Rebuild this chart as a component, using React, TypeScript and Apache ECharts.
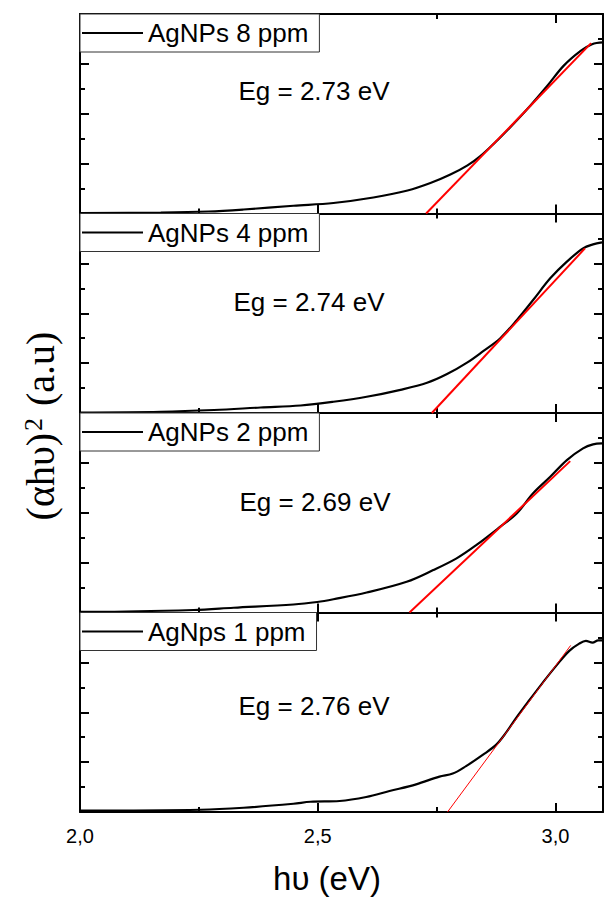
import React, { useEffect, useRef } from "react";
import * as echarts from "echarts";

// ---------- data ----------
const X_MIN = 2.0;
const X_MAX = 3.1;
const xTickValues = [2.0, 2.5, 3.0];
const xTickLabels = ["2,0", "2,5", "3,0"];

const seriesNames = ["AgNPs 8 ppm", "AgNPs 4 ppm", "AgNPs 2 ppm", "AgNps 1 ppm"];
const egLabels = ["Eg = 2.73 eV", "Eg = 2.74 eV", "Eg = 2.69 eV", "Eg = 2.76 eV"];

// 8 ppm
const energy8 = [2.0, 2.17, 2.27, 2.344, 2.449, 2.533, 2.617, 2.689, 2.737, 2.779, 2.815, 2.842, 2.878, 2.911, 2.947, 2.983, 3.017, 3.053, 3.077, 3.1];
const absorb8 = [0.02, 0.04, 0.08, 0.16, 0.31, 0.42, 0.64, 0.92, 1.22, 1.56, 1.93, 2.3, 2.94, 3.58, 4.32, 5.12, 5.92, 6.52, 6.79, 6.86];
// 4 ppm
const energy4 = [2.0, 2.17, 2.282, 2.38, 2.464, 2.533, 2.603, 2.674, 2.73, 2.772, 2.814, 2.848, 2.884, 2.919, 2.953, 2.989, 3.024, 3.058, 3.079, 3.098];
const absorb4 = [0.02, 0.05, 0.12, 0.22, 0.3, 0.45, 0.65, 0.93, 1.21, 1.56, 2.02, 2.48, 3.0, 3.73, 4.53, 5.4, 6.07, 6.6, 6.76, 6.84];
// 2 ppm
const energy2 = [2.0, 2.029, 2.239, 2.323, 2.449, 2.499, 2.533, 2.603, 2.687, 2.743, 2.792, 2.834, 2.884, 2.919, 2.953, 2.989, 3.024, 3.058, 3.079, 3.098];
const absorb2 = [0.03, 0.03, 0.1, 0.19, 0.32, 0.42, 0.53, 0.8, 1.23, 1.7, 2.17, 2.71, 3.44, 3.98, 4.78, 5.44, 6.11, 6.58, 6.74, 6.78];
// 1 ppm
const energy1 = [2.0, 2.254, 2.344, 2.449, 2.485, 2.546, 2.602, 2.651, 2.707, 2.756, 2.784, 2.812, 2.847, 2.875, 2.896, 2.917, 2.945, 2.973, 3.001, 3.029, 3.05, 3.064, 3.078, 3.09, 3.099];
const absorb1 = [0.06, 0.09, 0.17, 0.33, 0.41, 0.44, 0.6, 0.84, 1.11, 1.42, 1.54, 1.84, 2.29, 2.69, 3.18, 3.76, 4.48, 5.18, 5.85, 6.46, 6.75, 6.86, 6.79, 6.88, 6.88];

// Tauc fit lines: [Eg intercept, end energy], [0, end value]
const fitEnergy = [
  [2.728, 3.075],
  [2.74, 3.062],
  [2.693, 3.031],
  [2.773, 3.032],
];
const fitValue = [
  [0, 6.83],
  [0, 6.6],
  [0, 6.07],
  [0, 6.68],
];

const energies = [energy8, energy4, energy2, energy1];
const absorbs = [absorb8, absorb4, absorb2, absorb1];

// ---------- layout ----------
const TOPS = [14, 213.5, 413, 612.5];
const PANEL_H = 199.5;
const EG_POS = [
  [314, 91],
  [309, 302],
  [315, 502],
  [314, 706],
];

export default function App() {
  const ref = useRef<HTMLDivElement>(null);

  useEffect(() => {
    if (!ref.current) return;
    const chart = echarts.init(ref.current, null, { renderer: "svg" });

    const black = "#000";
    const grids: any[] = [];
    const xAxes: any[] = [];
    const yAxes: any[] = [];
    const series: any[] = [];
    const legends: any[] = [];
    const graphics: any[] = [];

    for (let g = 0; g < 4; g++) {
      grids.push({ left: 80, width: 523, top: TOPS[g], height: PANEL_H, show: false, containLabel: false });

      const baseX = {
        gridIndex: g,
        type: "value",
        min: X_MIN,
        max: X_MAX,
        splitLine: { show: false },
      };
      xAxes.push({
        ...baseX,
        position: "bottom",
        interval: 0.5,
        axisLine: { show: true, onZero: false, lineStyle: { color: black, width: 2 } },
        axisTick: { show: true, inside: true, length: 9, lineStyle: { color: black, width: 2 } },
        axisLabel:
          g === 3
            ? {
                show: true,
                margin: 14,
                fontSize: 20,
                fontFamily: "Liberation Sans",
                color: black,
                showMaxLabel: false,
                formatter: (v: number) => {
                  const i = xTickValues.findIndex((t) => Math.abs(t - v) < 1e-6);
                  return i >= 0 ? xTickLabels[i] : "";
                },
              }
            : { show: false },
      });
      xAxes.push({
        ...baseX,
        position: "bottom",
        interval: 0.25,
        axisLine: { show: false, onZero: false },
        axisTick: { show: true, inside: true, length: 5, lineStyle: { color: black, width: 2 } },
        axisLabel: { show: false },
      });
      xAxes.push({
        ...baseX,
        position: "top",
        interval: 0.5,
        axisLine: { show: true, onZero: false, lineStyle: { color: black, width: 2 } },
        axisTick: { show: true, inside: true, length: 9, lineStyle: { color: black, width: 2 } },
        axisLabel: { show: false },
      });
      xAxes.push({
        ...baseX,
        position: "top",
        interval: 0.25,
        axisLine: { show: false, onZero: false },
        axisTick: { show: true, inside: true, length: 5, lineStyle: { color: black, width: 2 } },
        axisLabel: { show: false },
      });

      const baseY = {
        gridIndex: g,
        type: "value",
        min: 0,
        max: 8,
        interval: 2,
        axisLine: { show: true, onZero: false, lineStyle: { color: black, width: 2 } },
        axisTick: { show: true, inside: true, length: 9, lineStyle: { color: black, width: 2 } },
        minorTick: { show: true, splitNumber: 2, length: 5, lineStyle: { color: black, width: 2 } },
        axisLabel: { show: false },
        splitLine: { show: false },
        minorSplitLine: { show: false },
      };
      yAxes.push({ ...baseY, position: "left" });
      yAxes.push({ ...baseY, position: "right" });

      const e = energies[g];
      const a = absorbs[g];
      series.push({
        type: "line",
        name: seriesNames[g],
        xAxisIndex: 4 * g,
        yAxisIndex: 2 * g,
        data: e.map((x, i) => [x, a[i]]),
        symbol: "none",
        smooth: 0.35,
        lineStyle: { color: black, width: 2.2 },
        itemStyle: { color: black },
        z: 3,
      });
      series.push({
        type: "line",
        name: "fit" + g,
        xAxisIndex: 4 * g,
        yAxisIndex: 2 * g,
        data: fitEnergy[g].map((x, i) => [x, fitValue[g][i]]),
        symbol: "none",
        lineStyle: { color: "#ff0000", width: g === 3 ? 1 : 2 },
        itemStyle: { color: "#ff0000" },
        z: 4,
      });

      legends.push({
        data: [seriesNames[g]],
        left: 80,
        top: TOPS[g],
        orient: "horizontal",
        icon: "rect",
        itemWidth: 61,
        itemHeight: 2,
        itemGap: 0,
        padding: [6, 11, 6, 2],
        borderColor: "#333",
        borderWidth: 1,
        borderRadius: 0,
        backgroundColor: "#fff",
        selectedMode: false,
        itemStyle: { color: black },
        textStyle: { fontSize: 26, fontFamily: "Liberation Sans", color: black },
      });

      graphics.push({
        type: "text",
        x: EG_POS[g][0],
        y: EG_POS[g][1],
        style: {
          text: egLabels[g],
          fontSize: 26,
          fontFamily: "Liberation Sans",
          fill: black,
          textAlign: "center",
          textVerticalAlign: "middle",
        },
        z: 10,
      });
    }

    graphics.push({
      type: "text",
      x: 327,
      y: 878,
      style: {
        text: "hυ (eV)",
        fontSize: 33,
        fontFamily: "Liberation Sans",
        fill: black,
        textAlign: "center",
        textVerticalAlign: "middle",
      },
    });
    graphics.push({
      type: "text",
      x: 40,
      y: 426,
      rotation: Math.PI / 2,
      style: {
        text: "{m|(αhυ)}{s|2}{m| (a.u)}",
        fill: black,
        textAlign: "center",
        textVerticalAlign: "middle",
        rich: {
          m: { fontSize: 40, fontFamily: "Liberation Serif", fill: black, verticalAlign: "bottom" },
          s: { fontSize: 26, fontFamily: "Liberation Serif", fill: black, verticalAlign: "top", padding: [0, 2, 0, 2] },
        },
      },
    });

    chart.setOption({
      animation: false,
      backgroundColor: "#fff",
      grid: grids,
      xAxis: xAxes,
      yAxis: yAxes,
      series,
      legend: legends,
      graphic: graphics,
    });

    return () => chart.dispose();
  }, []);

  return (
    <div
      ref={ref}
      style={{ position: "fixed", left: 0, top: 0, width: 605, height: 897, background: "#fff" }}
    />
  );
}
